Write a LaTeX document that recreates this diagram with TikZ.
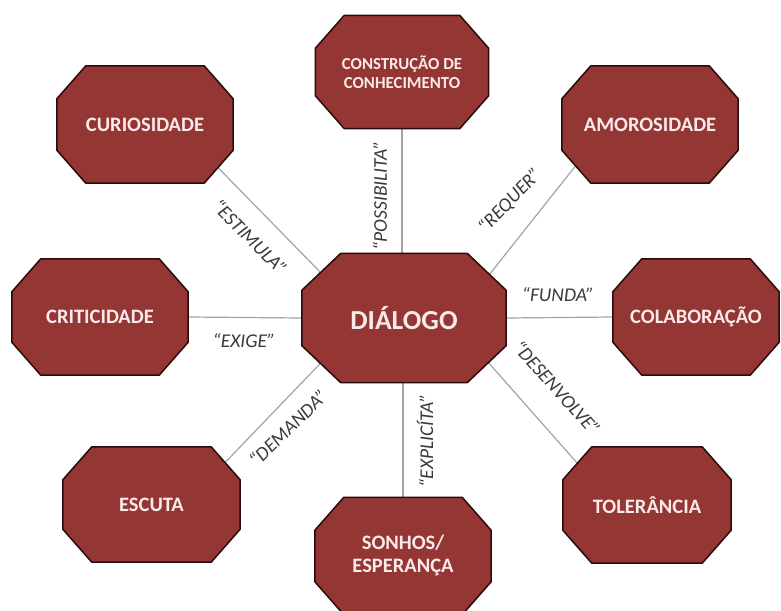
\documentclass[tikz,border=0pt]{standalone}
\usepackage{fontspec}
\setmainfont{Carlito}
\pgfdeclarelayer{paper}
\pgfdeclarelayer{lines}
\pgfdeclarelayer{shapes}
\pgfsetlayers{paper,lines,shapes,main}
\definecolor{octred}{HTML}{943634}
\definecolor{octedge}{HTML}{2A0A0A}
\definecolor{octtext}{HTML}{FBEAEA}
\definecolor{labcol}{HTML}{3A3A3A}
\definecolor{conncol}{HTML}{A4A4A4}
\tikzset{
  box/.style={rectangle, inner sep=0pt, text=octtext, align=center,
    font=\bfseries\fontsize{20.5}{22}\selectfont},
  lbl/.style={text=labcol, inner sep=0pt, font=\itshape\fontsize{19.5}{21}\selectfont},
  conn/.style={draw=conncol, line width=1.2pt, shorten <=-40pt, shorten >=-40pt},
  octshape/.style={fill=octred, draw=octedge, line width=1.5pt, line join=miter},
}
\newcommand\octo[3]{%
  \filldraw[octshape] ([xshift=#2]#1.north west) -- ([xshift=-#2]#1.north east)
    -- ([yshift=-#3]#1.north east) -- ([yshift=#3]#1.south east)
    -- ([xshift=-#2]#1.south east) -- ([xshift=#2]#1.south west)
    -- ([yshift=#3]#1.south west) -- ([yshift=-#3]#1.north west) -- cycle;}
\begin{document}
\begin{tikzpicture}[x=1pt,y=-1pt]
\begin{pgfonlayer}{paper}
\fill[white] (0,0) rectangle (781,610);
\end{pgfonlayer}
\useasboundingbox (0,0) rectangle (781,610);
% nodes
\node[box, minimum width=204pt, minimum height=129pt,
  font=\bfseries\fontsize{27.5}{29}\selectfont] (dia) at (404,318) {DIÁLOGO};
\node[box, minimum width=173pt, minimum height=113pt,
  font=\bfseries\fontsize{16.8}{18.5}\selectfont] (cons) at (402,72) {CONSTRUÇÃO DE\\CONHECIMENTO};
\node[box, minimum width=176pt, minimum height=117pt] (curi) at (145,124.5) {CURIOSIDADE};
\node[box, minimum width=176pt, minimum height=117pt] (amor) at (650,124.5) {AMOROSIDADE};
\node[box, minimum width=176pt, minimum height=116pt] (crit) at (100,317) {CRITICIDADE};
\node[box, minimum width=166pt, minimum height=116pt] (cola) at (696,317) {COLABORAÇÃO};
\node[box, minimum width=177pt, minimum height=115pt] (escu) at (151.5,504.5) {ESCUTA};
\node[box, minimum width=168pt, minimum height=116pt] (tole) at (647,505) {TOLERÂNCIA};
\node[box, minimum width=176pt, minimum height=117pt,
  font=\bfseries\fontsize{20.5}{23}\selectfont] (sonh) at (403,556) {SONHOS/\\ESPERANÇA};
% octagons
\begin{pgfonlayer}{shapes}
\octo{dia}{39pt}{37pt}
\foreach \n in {cons,curi,amor,crit,cola,escu,tole,sonh}{\octo{\n}{29pt}{33pt}}
\end{pgfonlayer}
% connectors
\begin{pgfonlayer}{lines}
\draw[conn] (cons.south) -- (cons.south |- dia.north);
\draw[conn] (sonh.north) -- (sonh.north |- dia.south);
\draw[conn] (crit.east) -- (dia.west);
\draw[conn] (cola.west) -- (dia.east);
\draw[conn] (curi.south east) -- (dia.north west);
\draw[conn] (amor.south west) -- (dia.north east);
\draw[conn] (escu.north east) -- (dia.south west);
\draw[conn] (tole.north west) -- (dia.south east);
\end{pgfonlayer}
% labels
\node[lbl, rotate=-45] (l1) at (250,237) {“ESTIMULA”};
\node[lbl] (l2) at (244,341) {“EXIGE”};
\node[lbl, rotate=90] (l3) at (380,196) {“POSSIBILITA”};
\node[lbl, rotate=46] (l4) at (510,201) {“REQUER”};
\node[lbl] (l5) at (558,295) {“FUNDA”};
\node[lbl, rotate=-48] (l6) at (557,388) {“DESENVOLVE”};
\node[lbl, rotate=44] (l7) at (288,428) {“DEMANDA”};
\node[lbl, rotate=90] (l8) at (425,441) {“EXPLICÍTA”};
\end{tikzpicture}
\end{document}
